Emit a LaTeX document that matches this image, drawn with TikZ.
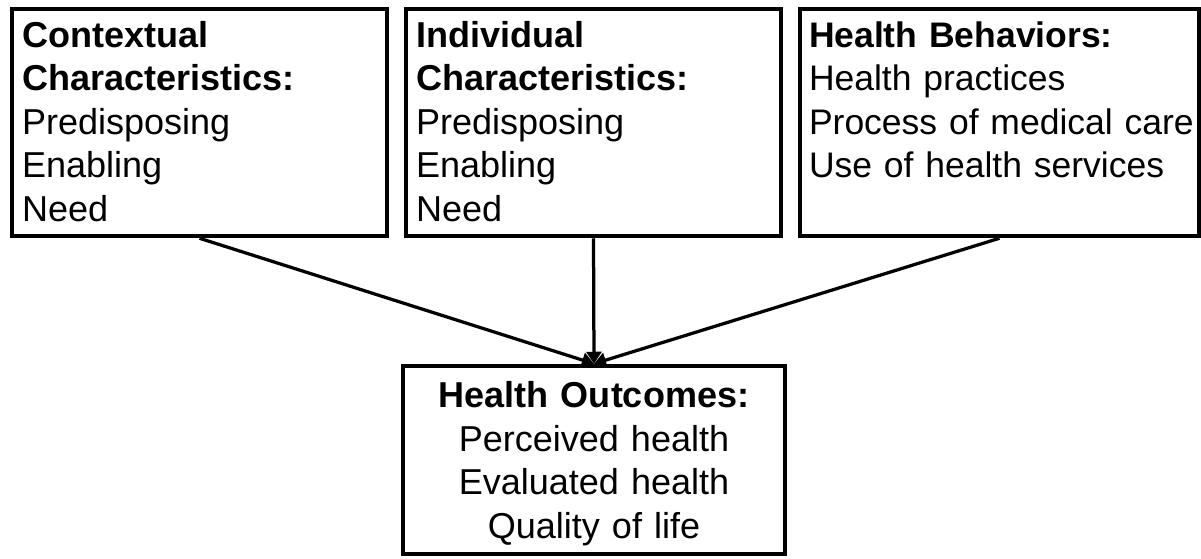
\documentclass[tikz,border=0pt]{standalone}
\usepackage{fontspec}
\setmainfont{Liberation Sans}
\usepackage{tikz}
\usetikzlibrary{arrows.meta}

\tikzset{
	factor/.style={draw,line width=0.08cm,inner xsep=0.2cm,inner ysep=0pt,align=left,
		font=\fontsize{20.5pt}{24.75pt}\selectfont,text height=0.77cm,text depth=3.78cm},
	outcome/.style={factor,align=center,text width=7.24cm,text height=0.84cm,text depth=2.93cm},
	link/.style={line width=0.065cm,-{Triangle[length=0.24cm,width=0.3cm]}}
}

\begin{document}
\begin{tikzpicture}
		\useasboundingbox (0,0) rectangle (24.02,11.16);
		% three groups of factors on top
		\node[factor,text width=7.1cm] (context) at (3.99,8.71)
			{\textbf{Contextual}\\\textbf{Characteristics:}\\Predisposing\\Enabling\\Need};
		\node[factor,text width=7.1cm] (individual) at (11.87,8.71)
			{\textbf{Individual}\\\textbf{Characteristics:}\\Predisposing\\Enabling\\Need};
		\node[factor,inner xsep=0.18cm,text width=7.62cm,font=\fontsize{20.2pt}{24.75pt}\selectfont] (behavior) at (19.99,8.71)
			{\textbf{Health Behaviors:}\\Health practices\\\mbox{Process of medical care}\\Use of health services};
		% what they lead to
		\node[outcome] (outcomes) at (11.88,1.96)
			{\textbf{Health Outcomes:}\\Perceived health\\Evaluated health\\Quality of life};
		\draw[link] (context.south) -- (outcomes.north);
		\draw[link] (individual.south) -- (outcomes.north);
		\draw[link] (behavior.south) -- (outcomes.north);
	\end{tikzpicture}
\end{document}
